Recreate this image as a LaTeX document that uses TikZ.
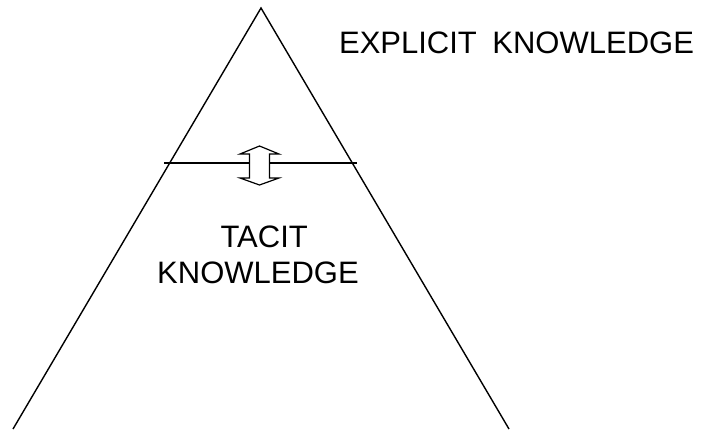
\documentclass[tikz,border=0pt]{standalone}
\usepackage{fontspec}
\setmainfont{Liberation Sans}

\begin{document}
\begin{tikzpicture}[
  x=1pt,
  y=-1pt,
  line width=1.4pt,
  every node/.style={font=\fontsize{31}{36}\selectfont, inner sep=0pt}
]
  \useasboundingbox (0,0) rectangle (703,429);

  % Triangle corners
  \coordinate (apex) at (261,8);
  \coordinate (baseL) at (13,429);
  \coordinate (baseR) at (509,429);

  % Triangle
  \draw[line join=miter] (baseL) -- (apex) -- (baseR);

  % Boundary line between the two kinds of knowledge
  \coordinate (cutL) at (164,163);
  \coordinate (cutR) at (357,163);
  \draw (cutL) -- (cutR);

  % Double arrow across the boundary
  \begin{scope}[shift={(259.5,165.5)}]
    \filldraw[fill=white, line width=1.2pt, line join=miter]
      (0,-19.5) -- (19.5,-11.5) -- (10,-11.5) -- (10,12.5) -- (19.5,12.5)
      -- (0,19.5) -- (-19.5,12.5) -- (-10,12.5) -- (-10,-11.5)
      -- (-19.5,-11.5) -- cycle;
  \end{scope}

  % Labels
  \node[anchor=base] (explicit) at (516.5,53) {EXPLICIT\hspace{0.5em}KNOWLEDGE};
  \node[align=center] (tacit) at (258,255) {\hspace{0.4em}TACIT\\KNOWLEDGE};
\end{tikzpicture}
\end{document}
